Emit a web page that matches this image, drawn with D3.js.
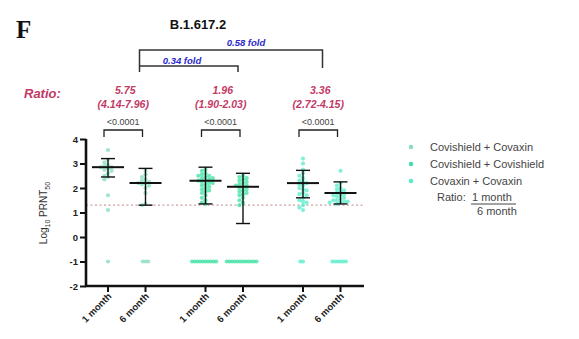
<!DOCTYPE html>
<html><head><meta charset="utf-8">
<script src="https://cdn.jsdelivr.net/npm/d3@7"></script>
<style>body{margin:0;background:#fff}svg{display:block}text{font-family:Arial,"Liberation Sans",sans-serif}</style>
</head><body>
<svg id="c" width="579" height="339"></svg>
<script>
const categories = ["1 month","6 month","1 month","6 month","1 month","6 month"];
const groups = ["Covishield + Covaxin","Covishield + Covishield","Covaxin + Covaxin"];
const groupColors = ["#86dcbc","#3ee0a2","#55ecc9"];
const yTicks = [4,3,2,1,0,-1,-2];
const g1m1 = [3.55,3.15,3.05,2.95,2.9,2.85,2.85,2.8,2.75,2.7,2.6,2.5,2.45,2.35,1.7,1.1,-1];
const g1m6 = [2.7,2.55,2.45,2.35,2.3,2.25,2.2,2.2,2.15,2.1,2.0,1.8,1.35,1.3,-1,-1,-1];
const g2m1 = [2.75,2.7,2.6,2.55,2.5,2.5,2.45,2.4,2.4,2.35,2.3,2.3,2.25,2.2,2.2,2.15,2.1,2.05,2.0,1.95,1.9,1.85,1.8,1.7,1.6,1.5,1.4,1.35,-1,-1,-1,-1,-1,-1,-1,-1,-1,-1];
const g2m6 = [2.5,2.45,2.4,2.35,2.3,2.25,2.2,2.15,2.1,2.1,2.05,2.0,1.95,1.9,1.85,1.8,1.75,1.7,1.6,1.5,1.4,1.3,-1,-1,-1,-1,-1,-1,-1,-1,-1,-1,-1,-1];
const g3m1 = [3.2,3.0,2.75,2.6,2.5,2.4,2.3,2.25,2.2,2.15,2.1,2.0,1.95,1.9,1.8,1.75,1.7,1.6,1.5,1.45,1.4,1.3,1.2,1.1,-1,-1];
const g3m6 = [2.7,2.2,2.1,2.0,1.95,1.9,1.85,1.8,1.75,1.7,1.7,1.65,1.6,1.55,1.5,1.5,1.45,1.45,1.4,1.4,1.35,-1,-1,-1,-1,-1,-1];
const columnValues = [g1m1,g1m6,g2m1,g2m6,g3m1,g3m6];
const medians = [2.85,2.2,2.3,2.05,2.2,1.8];
const errLow = [2.45,1.3,1.35,0.55,1.6,1.35];
const errHigh = [3.2,2.8,2.85,2.6,2.72,2.25];
const ratioMain = ["5.75","1.96","3.36"];
const ratioCI = ["(4.14-7.96)","(1.90-2.03)","(2.72-4.15)"];
const pValues = ["<0.0001","<0.0001","<0.0001"];
const foldLabels = ["0.34 fold","0.58 fold"];
const threshold = 1.3;

const svg = d3.select("#c");
const xPos = d3.scaleLinear().domain([0,1]).range([108,145.5]);
const slot = [0,1,2.6,3.6,5.2,6.2];
const x = i => xPos(slot[i]);
const y = d3.scaleLinear().domain([-2,4]).range([286,139]);

svg.append("line").attr("x1",86).attr("x2",364).attr("y1",y(threshold)).attr("y2",y(threshold))
  .attr("stroke","#c9a0a0").attr("stroke-width",1.2).attr("stroke-dasharray","2,2.5");

columnValues.forEach((vals,ci)=>{
  const g = Math.floor(ci/2);
  const placed = [];
  const sorted = vals.slice().sort((a,b)=>b-a);
  sorted.forEach(v=>{
    const py = y(v);
    const step = v < 0 ? 2.7 : 3.6;
    const minD = v < 0 ? 2.5 : 3.4;
    let off = 0;
    for (let k=0;k<40;k++){
      const o = (k%2===0?1:-1)*Math.ceil(k/2)*step;
      if (placed.every(p=>Math.hypot(p[0]-o,p[1]-py)>=minD)) {off=o;break;}
    }
    placed.push([off,py]);
    svg.append("circle").attr("cx",x(ci)+off).attr("cy",py).attr("r",2.1)
      .attr("fill",groupColors[g]).attr("fill-opacity",0.75);
  });
});

columnValues.forEach((vals,ci)=>{
  const cx = x(ci);
  svg.append("line").attr("x1",cx).attr("x2",cx).attr("y1",y(errLow[ci])).attr("y2",y(errHigh[ci])).attr("stroke","#111").attr("stroke-width",1.4);
  [errLow[ci],errHigh[ci]].forEach(v=>svg.append("line").attr("x1",cx-7).attr("x2",cx+7).attr("y1",y(v)).attr("y2",y(v)).attr("stroke","#111").attr("stroke-width",1.4));
  svg.append("line").attr("x1",cx-16).attr("x2",cx+16).attr("y1",y(medians[ci])).attr("y2",y(medians[ci])).attr("stroke","#111").attr("stroke-width",2);
});

const yAxis = d3.axisLeft(y).tickValues(yTicks).tickSize(6).tickFormat(d3.format("d"));
const ya = svg.append("g").attr("transform","translate(86,0)").call(yAxis);
ya.select(".domain").attr("stroke","#111").attr("stroke-width",2.6);
ya.selectAll(".tick line").attr("stroke","#111").attr("stroke-width",2);
ya.selectAll(".tick text").attr("font-size",9.5).attr("font-weight","bold").attr("fill","#222").attr("x",-8);
ya.selectAll(".tick text").text(d=>d<0?"-"+Math.abs(d):d);
ya.select(".domain").attr("d","M0,"+y(4)+"V"+y(-2));

svg.append("line").attr("x1",85).attr("x2",364).attr("y1",286).attr("y2",286).attr("stroke","#111").attr("stroke-width",2.6);
categories.forEach((c,i)=>{
  svg.append("line").attr("x1",x(i)).attr("x2",x(i)).attr("y1",286).attr("y2",292).attr("stroke","#111").attr("stroke-width",2);
  svg.append("text").attr("transform",`translate(${x(i)+4},${297}) rotate(-45)`).attr("text-anchor","end")
    .attr("font-size",9.5).attr("font-weight","bold").attr("fill","#222").text(c);
});

const yl = svg.append("text").attr("transform","translate(47,213) rotate(-90)").attr("text-anchor","middle").attr("font-size",10).attr("fill","#333");
yl.append("tspan").text("Log");
yl.append("tspan").attr("font-size",7).attr("dy",3).text("10");
yl.append("tspan").attr("dy",-3).text(" PRNT");
yl.append("tspan").attr("font-size",7).attr("dy",3).text("50");

[0,1,2].forEach(g=>{
  const a = x(2*g)-4, b = x(2*g+1)-3;
  svg.append("path").attr("d",`M${a},137V130H${b}V137`).attr("fill","none").attr("stroke","#222").attr("stroke-width",1.3);
  svg.append("text").attr("x",(a+b)/2).attr("y",125).attr("text-anchor","middle").attr("font-size",9).attr("fill","#444").text(pValues[g]);
  const cx = (a+b)/2 + 2;
  svg.append("text").attr("x",cx).attr("y",94).attr("text-anchor","middle").attr("font-size",10.5).attr("font-weight","bold").attr("font-style","italic").attr("fill","#c23a66").text(ratioMain[g]);
  svg.append("text").attr("x",cx-2).attr("y",108).attr("text-anchor","middle").attr("font-size",10.5).attr("font-weight","bold").attr("font-style","italic").attr("fill","#c23a66").text(ratioCI[g]);
});
svg.append("text").attr("x",24).attr("y",98).attr("font-size",13).attr("font-weight","bold").attr("font-style","italic").attr("fill","#c23a66").text("Ratio:");

const bl = x(1)-6, bs = x(3)-5, bb = x(5)-18;
svg.append("path").attr("d",`M${bl},72V50H${bb}V68`).attr("fill","none").attr("stroke","#333").attr("stroke-width",1.5);
svg.append("path").attr("d",`M${bl},66H${bs}V72`).attr("fill","none").attr("stroke","#333").attr("stroke-width",1.5);
svg.append("text").attr("x",246).attr("y",46).attr("text-anchor","middle").attr("font-size",9.5).attr("font-weight","bold").attr("font-style","italic").attr("fill","#2a2ac8").text(foldLabels[1]);
svg.append("text").attr("x",182).attr("y",64).attr("text-anchor","middle").attr("font-size",9.5).attr("font-weight","bold").attr("font-style","italic").attr("fill","#2a2ac8").text(foldLabels[0]);

svg.append("text").attr("x",198).attr("y",29).attr("text-anchor","middle").attr("font-size",13).attr("font-weight","bold").attr("fill","#111").text("B.1.617.2");
svg.append("text").attr("x",16).attr("y",38).attr("font-size",25).attr("font-weight","bold").style("font-family","'Liberation Serif','DejaVu Serif',serif").attr("fill","#111").text("F");

groups.forEach((gname,i)=>{
  const ly = 147 + i*17;
  svg.append("circle").attr("cx",411).attr("cy",ly).attr("r",2.2).attr("fill",groupColors[i]);
  svg.append("text").attr("x",430).attr("y",ly+4).attr("font-size",11).attr("fill","#444").text(gname);
});
svg.append("text").attr("x",437).attr("y",201).attr("font-size",11).attr("fill","#444").text("Ratio: ");
svg.append("text").attr("x",472).attr("y",201).attr("font-size",11).attr("fill","#444").text("1 month");
svg.append("line").attr("x1",471).attr("x2",516).attr("y1",204).attr("y2",204).attr("stroke","#444").attr("stroke-width",1);
svg.append("text").attr("x",477).attr("y",215).attr("font-size",11).attr("fill","#444").text("6 month");
</script>
</body></html>
